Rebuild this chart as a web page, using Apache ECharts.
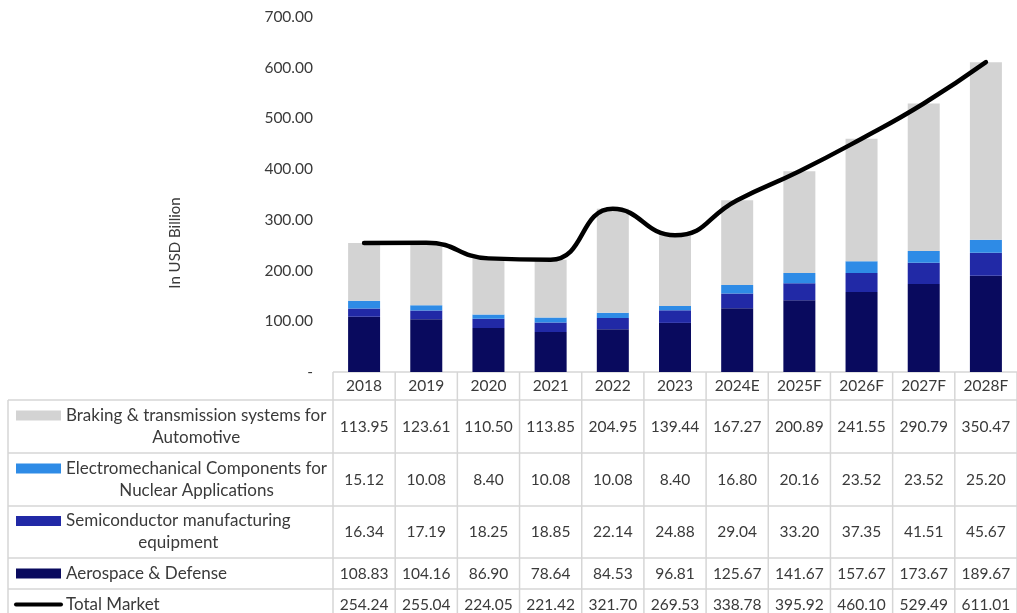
<!DOCTYPE html>
<html>
<head>
<meta charset="utf-8">
<title>Market size by segment</title>
<script src="https://cdn.jsdelivr.net/npm/echarts@6/dist/echarts.min.js"></script>
<style>
  html, body { margin: 0; padding: 0; background: #fff; }
  #chart { width: 1017px; height: 613px; }
</style>
</head>
<body>
<div id="chart"></div>
<script>
// Years (E = estimate, F = forecast)
const years = ['2018', '2019', '2020', '2021', '2022', '2023', '2024E', '2025F', '2026F', '2027F', '2028F'];

// Segment values, USD billion
const braking = [113.95, 123.61, 110.50, 113.85, 204.95, 139.44, 167.27, 200.89, 241.55, 290.79, 350.47];
const electromech = [15.12, 10.08, 8.40, 10.08, 10.08, 8.40, 16.80, 20.16, 23.52, 23.52, 25.20];
const semiconductor = [16.34, 17.19, 18.25, 18.85, 22.14, 24.88, 29.04, 33.20, 37.35, 41.51, 45.67];
const aerospace = [108.83, 104.16, 86.90, 78.64, 84.53, 96.81, 125.67, 141.67, 157.67, 173.67, 189.67];
const totalMarket = [254.24, 255.04, 224.05, 221.42, 321.70, 269.53, 338.78, 395.92, 460.10, 529.49, 611.01];

// Y axis ticks
const yTicks = [0, 100, 200, 300, 400, 500, 600, 700];

const FONT_FAMILY = 'Lato, "Liberation Sans", sans-serif';
const FONT_SIZE = 15.5;
const LABEL_FONT_SIZE = 17;
const TEXT_COLOR = '#3a3a3a';
const GRID_COLOR = '#d6d6d6';

const COLORS = {
  braking: '#d3d3d3',
  electromech: '#2e8be6',
  semiconductor: '#2129a6',
  aerospace: '#090a5e',
  total: '#000000'
};

// Table rows (top to bottom) with their legend markers
const tableRows = [
  { label: 'Braking & transmission systems for\nAutomotive', values: braking, color: COLORS.braking, marker: 'rect' },
  { label: 'Electromechanical Components for\nNuclear Applications', values: electromech, color: COLORS.electromech, marker: 'rect' },
  { label: 'Semiconductor manufacturing\nequipment', values: semiconductor, color: COLORS.semiconductor, marker: 'rect' },
  { label: 'Aerospace & Defense', values: aerospace, color: COLORS.aerospace, marker: 'rect' },
  { label: 'Total Market', values: totalMarket, color: COLORS.total, marker: 'line' }
];

const chart = echarts.init(document.getElementById('chart'), null, { renderer: 'canvas' });

chart.setOption({
  animation: false,
  backgroundColor: '#ffffff',
  textStyle: { fontFamily: FONT_FAMILY },
  grid: { left: 333, top: 17, width: 690, height: 355, containLabel: false },
  xAxis: {
    type: 'category',
    data: years,
    axisLine: { show: false },
    axisTick: { show: false },
    axisLabel: { show: false },
    splitLine: { show: false }
  },
  yAxis: {
    type: 'value',
    min: yTicks[0],
    max: yTicks[yTicks.length - 1],
    interval: 100,
    axisLine: { show: false },
    axisTick: { show: false },
    splitLine: { show: false },
    axisLabel: {
      margin: 20,
      color: TEXT_COLOR,
      fontSize: FONT_SIZE,
      fontFamily: FONT_FAMILY,
      formatter: v => (v === 0 ? '-' : v.toFixed(2))
    }
  },
  series: [
    { name: 'Aerospace & Defense', type: 'bar', stack: 'market', data: aerospace, barWidth: 32, itemStyle: { color: COLORS.aerospace } },
    { name: 'Semiconductor manufacturing equipment', type: 'bar', stack: 'market', data: semiconductor, barWidth: 32, itemStyle: { color: COLORS.semiconductor } },
    { name: 'Electromechanical Components for Nuclear Applications', type: 'bar', stack: 'market', data: electromech, barWidth: 32, itemStyle: { color: COLORS.electromech } },
    { name: 'Braking & transmission systems for Automotive', type: 'bar', stack: 'market', data: braking, barWidth: 32, itemStyle: { color: COLORS.braking } },
    {
      name: 'Total Market',
      type: 'line',
      data: totalMarket,
      smooth: 0.5,
      symbol: 'none',
      z: 5,
      lineStyle: { color: COLORS.total, width: 4.5, cap: 'round', join: 'round' }
    }
  ]
});

// ---- Data table under the plot ----
function buildTable() {
  const font = FONT_SIZE + 'px ' + FONT_FAMILY;
  const labelFont = LABEL_FONT_SIZE + 'px ' + FONT_FAMILY;
  const ctx = document.createElement('canvas').getContext('2d');
  ctx.font = labelFont;

  const centers = years.map((_, i) => chart.convertToPixel({ xAxisIndex: 0 }, i));
  const step = centers[1] - centers[0];
  const dataLeft = centers[0] - step / 2;
  const dataRight = centers[centers.length - 1] + step / 2;

  const tableTop = 372;
  const headerBottom = 400;
  const rowBounds = [400, 453, 506, 558, 589, 620];
  const labelLeft = 8;
  const markerLeft = 16;
  const markerWidth = 45;
  const textLeft = 66;
  const lineHeight = 22;

  const g = [];
  const hLine = (x1, x2, y) => g.push({ type: 'line', silent: true, shape: { x1, y1: y, x2, y2: y }, style: { stroke: GRID_COLOR, lineWidth: 1.5 } });
  const vLine = (x, y1, y2) => g.push({ type: 'line', silent: true, shape: { x1: x, y1, x2: x, y2 }, style: { stroke: GRID_COLOR, lineWidth: 1.5 } });
  const text = (str, x, y, align, f) => g.push({
    type: 'text', silent: true, x, y,
    style: { text: str, font: f || font, fill: TEXT_COLOR, align, verticalAlign: 'middle', lineHeight }
  });

  // grid lines
  hLine(dataLeft, dataRight, tableTop);
  rowBounds.forEach(y => hLine(labelLeft, dataRight, y));
  vLine(labelLeft, headerBottom, rowBounds[rowBounds.length - 1]);
  for (let i = 0; i <= years.length; i++) {
    vLine(dataLeft + i * step, tableTop, rowBounds[rowBounds.length - 1]);
  }

  // header row: years
  const headerMid = (tableTop + headerBottom) / 2;
  years.forEach((yr, i) => text(yr, centers[i], headerMid, 'center'));

  // body rows
  tableRows.forEach((row, r) => {
    const top = rowBounds[r];
    const bottom = rowBounds[r + 1];
    const mid = (top + bottom) / 2;
    const lines = row.label.split('\n');
    const firstLineY = mid - (lines.length - 1) * lineHeight / 2;
    const widest = Math.max.apply(null, lines.map(l => ctx.measureText(l).width));

    // legend marker
    if (row.marker === 'rect') {
      g.push({ type: 'rect', silent: true, shape: { x: markerLeft, y: firstLineY - 5, width: markerWidth, height: 10 }, style: { fill: row.color } });
    } else {
      g.push({ type: 'line', silent: true, shape: { x1: markerLeft, y1: firstLineY, x2: markerLeft + markerWidth, y2: firstLineY }, style: { stroke: row.color, lineWidth: 4, lineCap: 'round' } });
    }

    // label block, centred on its widest line
    text(row.label, textLeft + widest / 2, mid, 'center', labelFont);

    // values
    row.values.forEach((v, i) => text(v.toFixed(2), centers[i], mid, 'center'));
  });

  // y axis title
  g.push({
    type: 'text', silent: true, x: 175, y: 243, rotation: Math.PI / 2,
    style: { text: 'In USD Billion', font: '15px ' + FONT_FAMILY, fill: TEXT_COLOR, align: 'center', verticalAlign: 'middle' }
  });

  chart.setOption({ graphic: { elements: g } });
}

buildTable();
</script>
</body>
</html>
